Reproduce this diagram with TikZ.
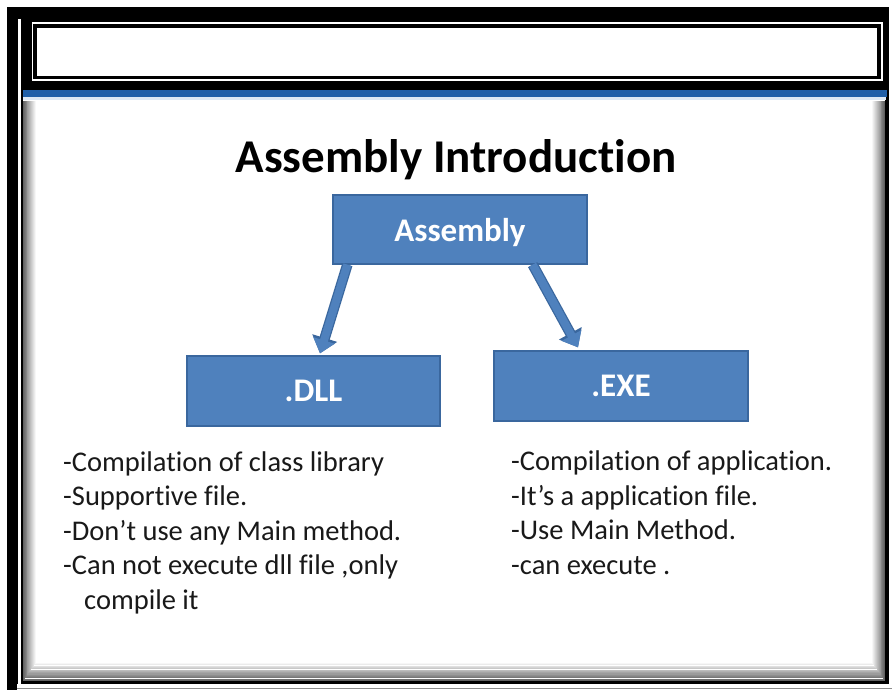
\documentclass[tikz,border=0pt]{standalone}
\usepackage{fontspec}
\setmainfont{Carlito}[Ligatures=NoCommon]
\usetikzlibrary{arrows.meta,calc}
\definecolor{boxblue}{HTML}{4F81BD}
\definecolor{boxedge}{HTML}{3A679E}
\definecolor{bandblue}{HTML}{1F5FA8}
\definecolor{lightband}{HTML}{DCE8F4}
\begin{document}
\begin{tikzpicture}[x=1pt,y=-1pt,
  bluebox/.style={draw=boxedge, line width=1.3pt, fill=boxblue, text=white,
    font=\bfseries\fontsize{33}{36}\selectfont, inner sep=0, text depth=0pt},
  bodytext/.style={anchor=base west, inner sep=0, text=black!90,
    font=\fontsize{28.5}{34}\selectfont},
  arrowdark/.style={draw=boxedge, line width=10.5pt, -{Triangle[width=25pt,length=16pt]}},
  arrowfill/.style={draw=boxblue, line width=8pt, -{Triangle[width=21.5pt,length=13.5pt]}}]
\useasboundingbox (0,0) rectangle (892,690);
\fill[white] (0,0) rectangle (892,690);
% outer black frame
\fill[black] (7,7) rectangle (889,684);
\fill[black] (7,684) rectangle (17,690);
\draw[white, line width=2.5pt] (19.5,19) -- (19.5,686) -- (892,686);
\draw[black!45, line width=0.8pt] (17,688.6) -- (892,688.6);
% content panel
\fill[white] (23,90) rectangle (885,681);
\foreach \i in {0,...,13}{
  \pgfmathtruncatemacro\g{62-4.5*\i}
  \draw[black!\g, line width=1.1pt] (23.5+\i*0.9,101) -- (23.5+\i*0.9,680.5-1.3*\i)
    -- (884.5-\i*0.9,680.5-1.3*\i) -- (884.5-\i*0.9,101);
}
\fill[bandblue] (23,90) rectangle (887,97);
\fill[lightband] (23,97) rectangle (886,100.5);
% top box
\fill[white] (31.5,22) rectangle (883,81);
\fill[black] (33.3,23.7) rectangle (880.5,79.3);
\fill[white] (37,28) rectangle (877,76);
% title
\node[anchor=base, inner sep=0, font=\bfseries\fontsize{47}{52}\selectfont] (title) at (456,173) {Assembly Introduction};
% boxes
\node[bluebox, minimum width=254pt, minimum height=69pt] (asm) at (460,229.5) {Assembly};
\node[bluebox, minimum width=253pt, minimum height=70pt] (dll) at (313.5,391) {.DLL};
\node[bluebox, minimum width=254pt, minimum height=70pt] (exe) at (621,386) {.EXE};
% arrows
\coordinate (a1) at ($(asm.south west)+(15,0)$);
\coordinate (d1) at ($(dll.north)+(6.5,-2)$);
\coordinate (a2) at ($(asm.south east)+(-55,0)$);
\coordinate (e1) at ($(exe.north)+(-43,-3)$);
\draw[arrowdark] (a1) -- (d1);
\draw[arrowfill] (a1) -- (d1);
\draw[arrowdark] (a2) -- (e1);
\draw[arrowfill] (a2) -- (e1);
% left list
\node[bodytext] (l1) at (63,471) {-Compilation of class library};
\node[bodytext] (l2) at (63,505.5) {-Supportive file.};
\node[bodytext] (l3) at (63,540) {-Don’t use any Main method.};
\node[bodytext] (l4) at (63,574.5) {-Can not execute dll file ,only};
\node[bodytext] (l5) at (84,609) {compile it};
% right list
\node[bodytext] (r1) at (511,470.5) {-Compilation of application.};
\node[bodytext] (r2) at (511,505) {-It’s a application file.};
\node[bodytext] (r3) at (511,539.5) {-Use Main Method.};
\node[bodytext] (r4) at (511,574) {-can execute .};
\end{tikzpicture}
\end{document}
